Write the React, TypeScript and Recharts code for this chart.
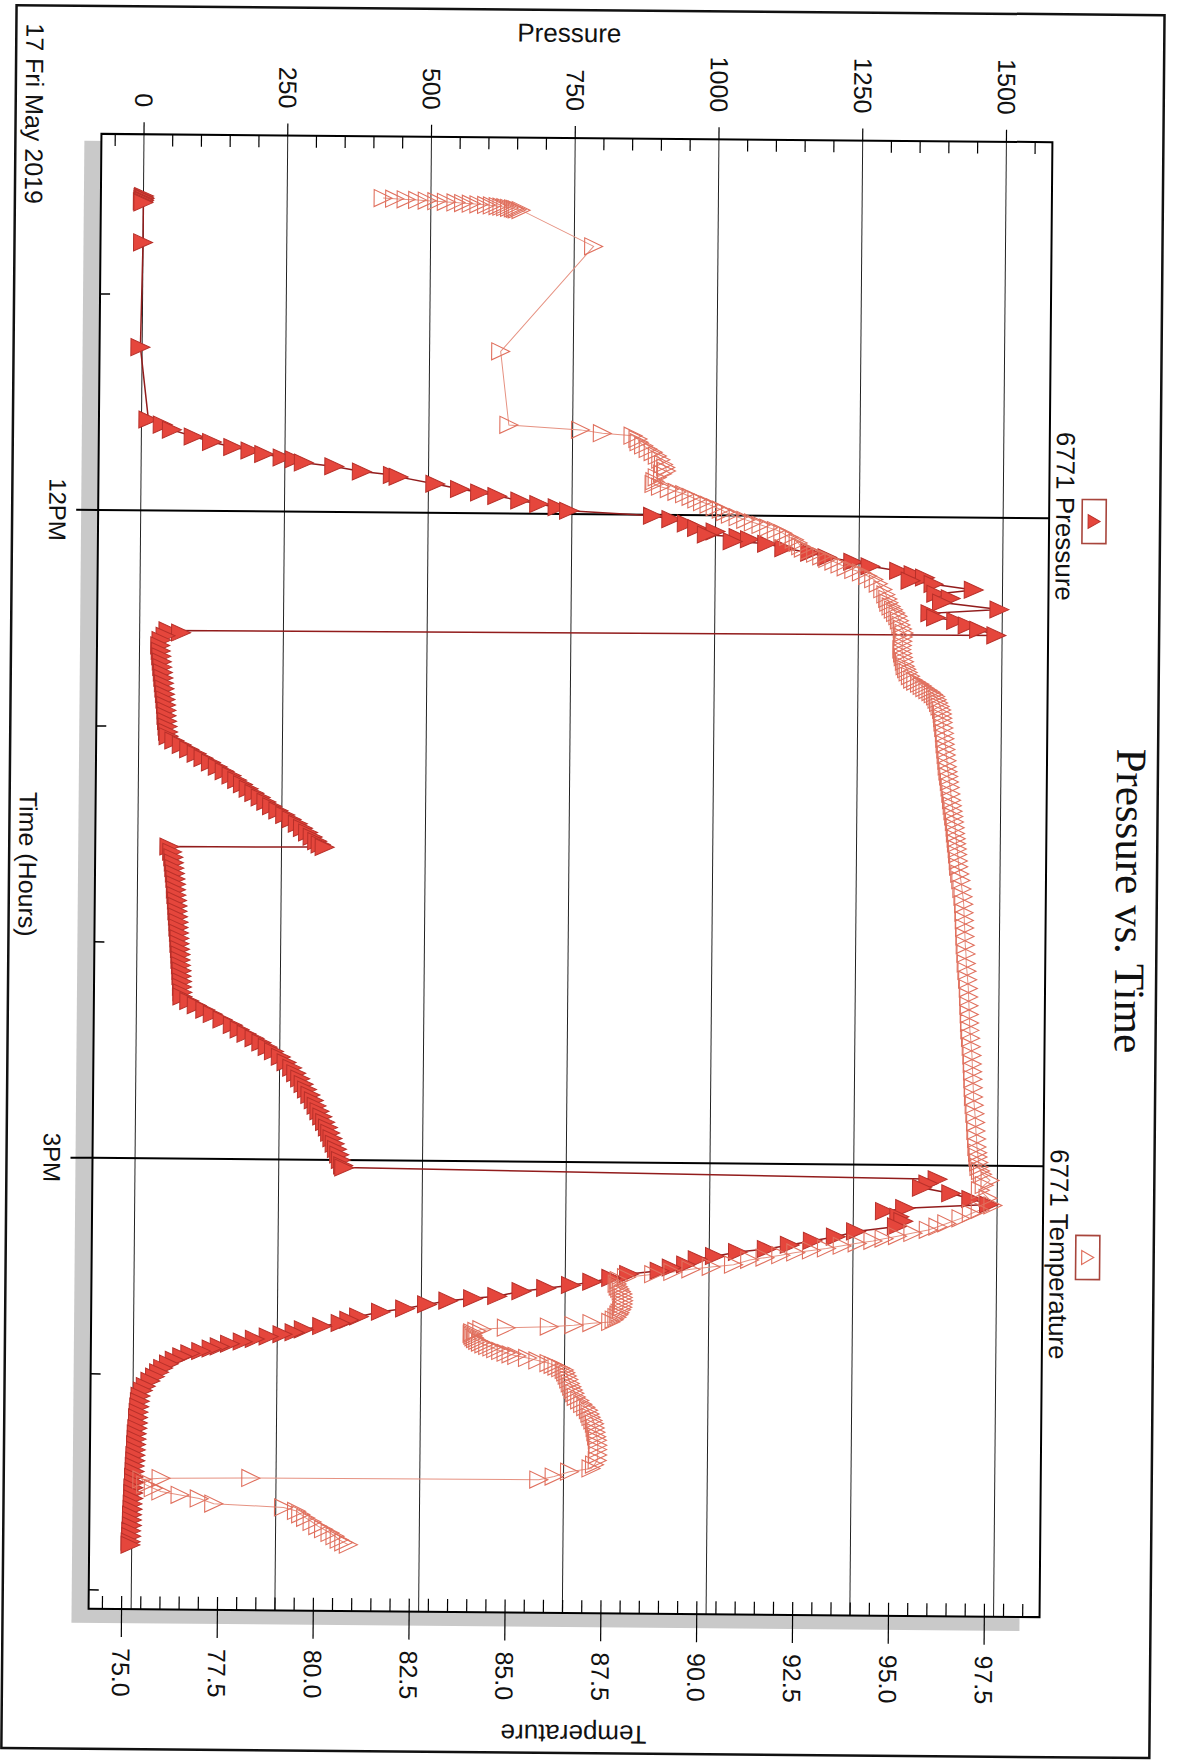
import React from "react";
import { LineChart, Line, XAxis, YAxis, CartesianGrid, ReferenceArea } from "recharts";

// ---------- data (time in decimal hours, pressure in psi, temperature in °F) ----------
const PRESSURE_MORNING: [number, number][] = [
  [10.545, 1], [10.55, 0], [10.555, 2], [10.56, 0], [10.565, 1], [10.57, -1], [10.575, 0],
  [10.76, 0], [11.245, -3], [11.58, 12],
];
const PRESSURE_RAMP1: [number, number][] = [
  [11.603, 37], [11.626, 53], [11.657, 91], [11.681, 123], [11.704, 160], [11.719, 190], [11.735, 214],
  [11.75, 246], [11.758, 267], [11.773, 283], [11.789, 336], [11.812, 384], [11.827, 438], [11.835, 448],
  [11.866, 512], [11.889, 555], [11.904, 590], [11.92, 620], [11.94, 660], [11.955, 693], [11.97, 725], [11.985, 745],
];
const PRESSURE_NOON: [number, number][] = [
  [12.005, 891], [12.02, 923], [12.04, 950], [12.06, 968], [12.075, 1000], [12.09, 985], [12.1, 1040],
  [12.11, 1060], [12.12, 1030], [12.13, 1090], [12.15, 1120], [12.17, 1165], [12.19, 1195], [12.21, 1240],
  [12.23, 1270], [12.25, 1320], [12.265, 1345], [12.28, 1365], [12.295, 1340], [12.31, 1380], [12.335, 1450],
  [12.355, 1385], [12.375, 1410], [12.395, 1395], [12.425, 1495], [12.445, 1375], [12.465, 1385], [12.48, 1420],
  [12.5, 1440], [12.52, 1460], [12.545, 1490],
];
const PRESSURE_HOLD1: [number, number][] = [
  [12.555, 50], [12.565, 72], [12.58, 45], [12.6, 38], [12.625, 36], [12.65, 37], [12.675, 38], [12.7, 39],
  [12.725, 40], [12.75, 41], [12.775, 42], [12.8, 43], [12.825, 44], [12.85, 45], [12.875, 46], [12.9, 47],
  [12.925, 48], [12.95, 48], [12.975, 49], [13.0, 50], [13.025, 51], [13.045, 52],
];
const PRESSURE_RAMP2: [number, number][] = [
  [13.065, 62], [13.085, 75], [13.105, 88], [13.125, 101], [13.145, 113], [13.165, 126], [13.185, 138],
  [13.205, 150], [13.225, 162], [13.245, 172], [13.265, 182], [13.285, 192], [13.305, 202], [13.325, 213],
  [13.345, 223], [13.365, 233], [13.385, 244], [13.405, 256], [13.425, 267], [13.445, 278], [13.465, 287],
  [13.485, 296], [13.505, 304], [13.525, 312], [13.54, 318], [13.552, 325],
];
const PRESSURE_HOLD2: [number, number][] = [
  [13.556, 55], [13.58, 60], [13.605, 62], [13.63, 63], [13.655, 64], [13.68, 65], [13.705, 66], [13.73, 67],
  [13.755, 67], [13.78, 68], [13.805, 69], [13.83, 70], [13.855, 70], [13.88, 71], [13.905, 72], [13.93, 72],
  [13.955, 73], [13.98, 74], [14.005, 74], [14.03, 75], [14.055, 76], [14.08, 76], [14.105, 77], [14.13, 78],
  [14.155, 78], [14.18, 79], [14.205, 79], [14.23, 80],
];
const PRESSURE_RAMP3: [number, number][] = [
  [14.25, 80], [14.27, 92], [14.29, 105], [14.31, 120], [14.33, 133], [14.355, 150], [14.38, 168], [14.4, 180],
  [14.42, 192], [14.44, 206], [14.46, 218], [14.48, 229], [14.5, 240], [14.525, 252], [14.55, 262], [14.575, 272],
  [14.6, 279], [14.625, 286], [14.65, 292], [14.675, 298], [14.7, 304], [14.725, 310], [14.75, 315], [14.775, 320],
  [14.8, 325], [14.825, 330], [14.85, 335], [14.875, 339], [14.9, 343], [14.925, 347], [14.95, 351], [14.975, 355],
  [15.0, 358], [15.025, 362], [15.035, 364],
];
const PRESSURE_AFTERNOON: [number, number][] = [
  [15.065, 1396], [15.085, 1380], [15.105, 1369], [15.13, 1420], [15.155, 1455], [15.18, 1486], [15.2, 1340],
  [15.215, 1305], [15.24, 1330], [15.26, 1337], [15.285, 1326], [15.31, 1255], [15.335, 1220], [15.355, 1180],
  [15.375, 1140], [15.395, 1100], [15.41, 1050], [15.43, 1010], [15.445, 980],
];
const PRESSURE_DECLINE: [number, number][] = [
  [15.47, 960], [15.485, 935], [15.5, 914], [15.516, 861], [15.535, 830], [15.554, 797], [15.57, 760],
  [15.585, 717], [15.6, 674], [15.624, 632], [15.635, 590], [15.647, 547], [15.665, 510], [15.685, 472],
  [15.701, 430], [15.724, 392], [15.74, 375], [15.755, 360], [15.77, 328], [15.786, 296], [15.8, 280],
  [15.809, 259], [15.82, 235], [15.832, 211], [15.845, 190], [15.855, 168], [15.868, 150], [15.878, 136],
  [15.89, 118], [15.901, 99], [15.915, 85], [15.932, 72], [15.95, 62], [15.97, 52], [15.99, 45], [16.01, 38],
  [16.03, 30], [16.055, 22], [16.075, 17],
];
const PRESSURE_END: [number, number][] = [
  [16.1, 13], [16.125, 12], [16.15, 11], [16.175, 10], [16.2, 9], [16.225, 9], [16.25, 8], [16.275, 7],
  [16.3, 7], [16.325, 6], [16.35, 6], [16.375, 5], [16.4, 5], [16.425, 4], [16.45, 4], [16.475, 3], [16.5, 3],
  [16.525, 2], [16.55, 2], [16.575, 2], [16.6, 1], [16.625, 1], [16.65, 0], [16.675, 0], [16.7, 0],
  [16.725, -1], [16.75, -1], [16.775, -2], [16.79, -2],
];

const TEMP_MORNING: [number, number][] = [
  [10.545, 81.5], [10.5475, 81.8], [10.55, 82.1], [10.5525, 82.4], [10.555, 82.65], [10.5575, 82.9],
  [10.56, 83.15], [10.5625, 83.4], [10.565, 83.6], [10.5675, 83.8], [10.57, 84.0], [10.5725, 84.2],
  [10.575, 84.35], [10.5775, 84.5], [10.58, 84.6], [10.5825, 84.7], [10.585, 84.8], [10.5875, 84.9],
  [10.59, 84.95], [10.5925, 85.0], [10.595, 85.1], [10.76, 87.0], [11.25, 84.6], [11.59, 84.83],
];
const TEMP_RISE: [number, number][] = [
  [11.61, 86.7], [11.625, 87.27], [11.635, 88.07], [11.65, 88.2], [11.665, 88.23], [11.68, 88.35],
  [11.696, 88.47], [11.71, 88.6], [11.727, 88.71], [11.745, 88.8], [11.766, 88.87], [11.78, 88.93],
  [11.797, 88.95], [11.81, 88.85], [11.827, 88.71], [11.845, 88.65], [11.858, 88.63], [11.87, 88.8],
  [11.881, 89.03], [11.893, 89.23], [11.904, 89.43], [11.916, 89.6], [11.928, 89.75], [11.94, 89.9],
  [11.951, 90.07], [11.963, 90.23], [11.974, 90.39], [11.985, 90.5], [11.997, 90.63], [12.008, 90.83],
  [12.02, 91.03], [12.032, 91.23], [12.043, 91.43], [12.055, 91.63], [12.066, 91.83], [12.08, 92.0],
  [12.097, 92.15], [12.11, 92.3], [12.125, 92.4], [12.14, 92.47], [12.151, 92.54], [12.162, 92.7],
  [12.174, 92.86], [12.186, 93.02], [12.198, 93.18], [12.21, 93.34], [12.223, 93.5], [12.236, 93.66],
  [12.248, 93.86], [12.259, 94.06], [12.275, 94.22], [12.29, 94.38], [12.31, 94.5], [12.336, 94.62],
  [12.36, 94.7], [12.38, 94.75], [12.398, 94.78], [12.415, 94.84], [12.43, 94.9], [12.445, 94.96],
  [12.46, 95.02], [12.48, 95.06], [12.5, 95.1], [12.518, 95.14],
];
const TEMP_PLATEAU: [number, number][] = [
  [12.537, 95.18], [12.555, 95.16], [12.575, 95.15], [12.595, 95.14], [12.614, 95.13], [12.632, 95.15],
  [12.65, 95.17], [12.67, 95.2], [12.691, 95.22], [12.705, 95.26], [12.72, 95.3], [12.737, 95.36],
  [12.753, 95.42], [12.762, 95.5], [12.772, 95.6], [12.782, 95.67], [12.792, 95.74], [12.801, 95.82],
  [12.81, 95.9], [12.82, 95.96], [12.83, 96.02], [12.845, 96.06], [12.86, 96.1], [12.876, 96.14],
  [12.892, 96.18], [12.91, 96.2], [12.93, 96.21], [12.95, 96.22], [12.975, 96.24], [13.0, 96.26],
  [13.025, 96.27], [13.05, 96.28], [13.075, 96.3], [13.1, 96.31], [13.127, 96.33], [13.154, 96.34],
  [13.177, 96.36], [13.2, 96.38], [13.225, 96.4], [13.25, 96.42], [13.28, 96.44], [13.309, 96.46],
  [13.335, 96.48], [13.36, 96.5], [13.385, 96.52], [13.41, 96.54], [13.436, 96.56], [13.463, 96.57],
  [13.487, 96.59], [13.51, 96.6], [13.535, 96.62], [13.56, 96.63], [13.59, 96.65], [13.617, 96.66],
  [13.65, 96.69], [13.68, 96.72], [13.72, 96.75], [13.756, 96.78], [13.79, 96.8], [13.83, 96.81],
  [13.865, 96.82], [13.9, 96.83], [13.94, 96.84], [13.98, 96.85], [14.02, 96.87], [14.065, 96.88],
  [14.1, 96.9], [14.14, 96.92], [14.18, 96.94], [14.22, 96.95], [14.26, 96.96], [14.3, 96.97],
  [14.34, 96.98], [14.374, 96.99], [14.41, 97.01], [14.45, 97.03], [14.49, 97.05], [14.53, 97.06],
  [14.565, 97.07], [14.6, 97.08], [14.64, 97.09], [14.682, 97.1], [14.72, 97.12], [14.76, 97.14],
  [14.8, 97.16], [14.84, 97.17], [14.877, 97.19], [14.914, 97.2], [14.94, 97.22], [14.96, 97.23],
  [14.985, 97.25], [15.006, 97.26], [15.025, 97.3], [15.04, 97.35], [15.068, 97.55], [15.09, 97.4],
  [15.114, 97.3], [15.15, 97.5], [15.184, 97.63],
];
const TEMP_FALL: [number, number][] = [
  [15.205, 97.3], [15.222, 97.07], [15.245, 96.8], [15.269, 96.43], [15.285, 96.2], [15.3, 95.95],
  [15.315, 95.55], [15.33, 95.15], [15.342, 94.8], [15.353, 94.51], [15.365, 94.1], [15.377, 93.71],
  [15.39, 93.3], [15.4, 92.91], [15.41, 92.5], [15.423, 92.11], [15.435, 91.7], [15.446, 91.3],
  [15.469, 90.88], [15.48, 90.3], [15.492, 89.77], [15.505, 89.3], [15.516, 88.8], [15.531, 88.09],
  [15.545, 87.9], [15.562, 87.85], [15.575, 87.88], [15.585, 87.92], [15.597, 87.96], [15.608, 88.0],
  [15.625, 88.01], [15.64, 88.02], [15.655, 88.01], [15.67, 88.0], [15.682, 87.97], [15.695, 87.93],
  [15.705, 87.9], [15.716, 87.85], [15.728, 87.78], [15.739, 87.69], [15.745, 87.2], [15.755, 86.73],
  [15.763, 86.09], [15.77, 84.97], [15.778, 84.33], [15.786, 84.2], [15.793, 84.09], [15.8, 84.08],
  [15.808, 84.1], [15.816, 84.13], [15.824, 84.17], [15.832, 84.23], [15.84, 84.3], [15.848, 84.39],
  [15.855, 84.49], [15.862, 84.6], [15.87, 84.7], [15.878, 84.83], [15.886, 84.97], [15.893, 85.1],
  [15.9, 85.25], [15.909, 85.53], [15.92, 85.8], [15.932, 86.09], [15.94, 86.2], [15.948, 86.3],
  [15.955, 86.4], [15.963, 86.49], [15.975, 86.53], [15.99, 86.57], [16.007, 86.61], [16.025, 86.65],
  [16.04, 86.69], [16.055, 86.73], [16.07, 86.77], [16.087, 86.81], [16.103, 86.9], [16.12, 86.98],
  [16.134, 87.06], [16.148, 87.13], [16.165, 87.17], [16.18, 87.2], [16.195, 87.25], [16.21, 87.29],
  [16.23, 87.31], [16.25, 87.33], [16.27, 87.35], [16.287, 87.37], [16.31, 87.38], [16.33, 87.38],
  [16.355, 87.38], [16.38, 87.37], [16.4, 87.3], [16.418, 87.21], [16.434, 86.65], [16.457, 86.25],
  [16.472, 85.85],
];
const TEMP_END: [number, number][] = [
  [16.476, 78.34], [16.48, 76.0], [16.487, 75.5], [16.511, 75.6], [16.527, 75.8], [16.542, 76.0],
  [16.557, 76.5], [16.573, 77.0], [16.596, 77.38], [16.611, 79.2], [16.627, 79.54], [16.642, 79.65],
  [16.658, 79.78], [16.677, 79.95], [16.696, 80.1], [16.71, 80.25], [16.727, 80.42], [16.742, 80.55],
  [16.758, 80.66], [16.77, 80.78], [16.781, 80.9],
];

// ---------- axes ----------
const TIME_DOMAIN: [number, number] = [10.259, 17.088];
const PRESSURE_DOMAIN: [number, number] = [-74, 1580];
const TEMP_DOMAIN: [number, number] = [74.14, 98.94];
const TIME_TICKS = [11, 12, 13, 14, 15, 16, 17];
const TIME_LABELS: Record<number, string> = { 12: "12PM", 15: "3PM" };
const PRESSURE_MAJOR = [0, 250, 500, 750, 1000, 1250, 1500];
const PRESSURE_TICKS = Array.from({ length: 33 }, (_, i) => -50 + i * 50);
const TEMP_MAJOR = [75, 77.5, 80, 82.5, 85, 87.5, 90, 92.5, 95, 97.5];
const TEMP_TICKS = Array.from({ length: 49 }, (_, i) => 74.5 + i * 0.5);
const NOON_LINES = [12, 15];

const toRows = (segs: [number, number][][]) => segs.flat().map(([t, v]) => ({ t, v }));
const pressureData = toRows([PRESSURE_MORNING, PRESSURE_RAMP1, PRESSURE_NOON, PRESSURE_HOLD1, PRESSURE_RAMP2,
  PRESSURE_HOLD2, PRESSURE_RAMP3, PRESSURE_AFTERNOON, PRESSURE_DECLINE, PRESSURE_END]);
const tempData = toRows([TEMP_MORNING, TEMP_RISE, TEMP_PLATEAU, TEMP_FALL, TEMP_END]);

// ---------- styling ----------
const SANS = "'Liberation Sans', Arial, Helvetica, sans-serif";
const SERIF = "'Liberation Serif', 'Times New Roman', serif";
const P_FILL = "#e5463c";
const P_STROKE = "#b8302a";
const P_LINE = "#921c1c";
const T_STROKE = "#e0705e";
const T_LINE = "#e69282";

const tri = (cx: number, cy: number, b: number, h: number) =>
  `M${cx},${cy - h / 2} L${cx + b / 2},${cy + h / 2} L${cx - b / 2},${cy + h / 2} Z`;

const PressureDot = (props: any) => {
  const { cx, cy, index } = props;
  if (cx == null || cy == null) return <g key={`pd${index}`} />;
  return <path key={`pd${index}`} d={tri(cx, cy, 17, 19)} fill={P_FILL} stroke={P_STROKE} strokeWidth={1} />;
};
const TempDot = (props: any) => {
  const { cx, cy, index } = props;
  if (cx == null || cy == null) return <g key={`td${index}`} />;
  return <path key={`td${index}`} d={tri(cx, cy, 17, 18)} fill="none" stroke={T_STROKE} strokeWidth={1.1} />;
};

const TimeTick = (props: any) => {
  const { x, y, payload } = props;
  const label = TIME_LABELS[payload.value];
  if (label) {
    return (
      <g>
        <line x1={x} x2={x} y1={y} y2={y + 22} stroke="#000" strokeWidth={2} />
        <text x={x} y={y + 49} textAnchor="middle" fontFamily={SANS} fontSize={24} fill="#111">{label}</text>
      </g>
    );
  }
  return <line x1={x} x2={x} y1={y} y2={y - 10} stroke="#000" strokeWidth={1.5} />;
};

const PressureTick = (props: any) => {
  const { x, y, payload } = props;
  const v = payload.value;
  if (PRESSURE_MAJOR.includes(v)) {
    return (
      <g>
        <line x1={x} x2={x - 12} y1={y} y2={y} stroke="#000" strokeWidth={1.2} />
        <text x={x - 27} y={y} dy="0.36em" textAnchor="end" fontFamily={SANS} fontSize={25} fill="#111">{v}</text>
      </g>
    );
  }
  return <line x1={x} x2={x + 12} y1={y} y2={y} stroke="#000" strokeWidth={1.2} />;
};

const TempTick = (props: any) => {
  const { x, y, payload } = props;
  const v = payload.value;
  const major = TEMP_MAJOR.some((m) => Math.abs(m - v) < 1e-6);
  if (major) {
    return (
      <g>
        <line x1={x - 13} x2={x + 28} y1={y} y2={y} stroke="#000" strokeWidth={1.2} />
        <text x={x + 39} y={y} dy="0.36em" textAnchor="start" fontFamily={SANS} fontSize={25} fill="#111">{v.toFixed(1)}</text>
      </g>
    );
  }
  return <line x1={x} x2={x - 13} y1={y} y2={y} stroke="#000" strokeWidth={1.2} />;
};

const W = 1760;
const H = 1177;

export default function App() {
  return (
    <div style={{ position: "absolute", left: 0, top: 0, width: 1177, height: 1760, overflow: "hidden", background: "#fff" }}>
      <div style={{ position: "absolute", left: 0, top: 0, width: 1177, height: 1760, transformOrigin: "570px 875px", transform: "rotate(0.5deg)" }}>
        <div style={{ position: "absolute", left: 0, top: 0, width: W, height: H, transformOrigin: "0 0", transform: "translate(1177px, 0px) rotate(90deg)" }}>
          {/* drop shadow and white plot background */}
          <div style={{ position: "absolute", left: 145, top: 151, width: 1482, height: 948, background: "#c9c9c9" }} />
          <div style={{ position: "absolute", left: 138, top: 131, width: 1475, height: 951, background: "#fff" }} />
          <div style={{ position: "absolute", left: 0, top: 0 }}>
            <LineChart width={W} height={H} margin={{ top: 131, right: 27, bottom: 35, left: 38 }}>
              <CartesianGrid yAxisId="p" horizontal={true} vertical={false} horizontalValues={PRESSURE_MAJOR} stroke="#222" strokeWidth={1} />
              <CartesianGrid yAxisId="p" horizontal={false} vertical={true} verticalValues={NOON_LINES} stroke="#000" strokeWidth={2} />
              <XAxis type="number" dataKey="t" domain={TIME_DOMAIN} allowDataOverflow ticks={TIME_TICKS} interval={0}
                height={60} tickSize={0} tickMargin={0} tickLine={false} axisLine={false} tick={<TimeTick />} />
              <YAxis yAxisId="p" orientation="left" type="number" domain={PRESSURE_DOMAIN} allowDataOverflow
                ticks={PRESSURE_TICKS} interval={0} width={100} tickSize={0} tickMargin={0} tickLine={false} axisLine={false} tick={<PressureTick />} />
              <YAxis yAxisId="temp" orientation="right" type="number" domain={TEMP_DOMAIN} allowDataOverflow
                ticks={TEMP_TICKS} interval={0} width={120} tickSize={0} tickMargin={0} tickLine={false} axisLine={false} tick={<TempTick />} />
              <Line yAxisId="p" data={pressureData} dataKey="v" type="linear" stroke={P_LINE} strokeWidth={1.5}
                dot={PressureDot} activeDot={false} isAnimationActive={false} legendType="none" />
              <Line yAxisId="temp" data={tempData} dataKey="v" type="linear" stroke={T_LINE} strokeWidth={1}
                dot={TempDot} activeDot={false} isAnimationActive={false} legendType="none" />
              <ReferenceArea yAxisId="p" x1={TIME_DOMAIN[0]} x2={TIME_DOMAIN[1]} y1={PRESSURE_DOMAIN[0]} y2={PRESSURE_DOMAIN[1]}
                fill="none" fillOpacity={0} stroke="#000" strokeWidth={2} ifOverflow="visible" />
            </LineChart>
          </div>
          {/* texts, legend and outer frame */}
          <svg width={W} height={H} style={{ position: "absolute", left: 0, top: 0, pointerEvents: "none" }}>
            <rect x={10} y={20} width={1743} height={1148} fill="none" stroke="#111" strokeWidth={2.5} />
            <text x={896} y={61} textAnchor="middle" fontFamily={SERIF} fontSize={43} fill="#111">Pressure vs. Time</text>
            <rect x={495} y={74} width={44} height={24} fill="#fff" stroke="#a8453c" strokeWidth={1.6} />
            <path d={tri(517, 86, 14, 12)} fill={P_FILL} stroke={P_STROKE} strokeWidth={1} />
            <text x={512} y={124} textAnchor="middle" fontFamily={SANS} fontSize={26} fill="#111">6771 Pressure</text>
            <rect x={1231} y={74} width={44} height={24} fill="#fff" stroke="#a8453c" strokeWidth={1.6} />
            <path d={tri(1253, 86, 14, 12)} fill="none" stroke={T_STROKE} strokeWidth={1.2} />
            <text x={1250} y={124} textAnchor="middle" fontFamily={SANS} fontSize={26} fill="#111">6771 Temperature</text>
            <text transform="translate(42,615) rotate(-90)" textAnchor="middle" fontFamily={SANS} fontSize={26} fill="#111">Pressure</text>
            <text transform="translate(1725,596) rotate(90)" textAnchor="middle" fontFamily={SANS} fontSize={26} fill="#111">Temperature</text>
            <text x={869} y={1158} textAnchor="middle" fontFamily={SANS} fontSize={25} fill="#111">Time (Hours)</text>
            <text x={28} y={1158} textAnchor="start" fontFamily={SANS} fontSize={25} fill="#111">17 Fri May 2019</text>
          </svg>
        </div>
      </div>
    </div>
  );
}
